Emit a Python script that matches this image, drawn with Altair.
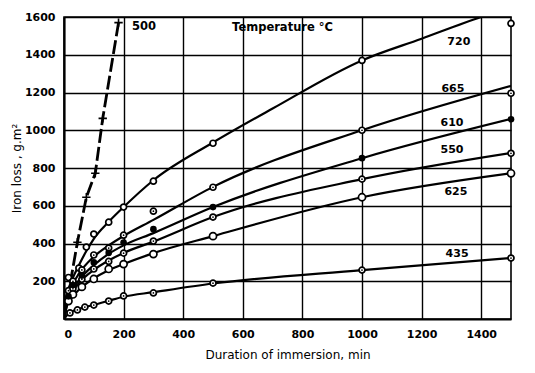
import altair as alt
import pandas as pd

# ---- data ----
curve_names = ["720", "665", "610", "550", "625", "435"]

line_t = {
    "720": [0, 10, 25, 50, 75, 100, 150, 200, 300, 500, 700, 1000, 1200, 1400, 1500],
    "665": [0, 10, 25, 50, 100, 150, 200, 300, 500, 1000, 1500],
    "610": [0, 10, 25, 50, 100, 150, 200, 300, 500, 1000, 1500],
    "550": [0, 10, 25, 50, 100, 150, 200, 300, 500, 1000, 1500],
    "625": [0, 10, 25, 50, 100, 150, 200, 300, 500, 1000, 1500],
    "435": [0, 10, 20, 45, 70, 100, 150, 200, 300, 500, 1000, 1500],
}
line_y = {
    "720": [0, 130, 200, 285, 360, 425, 515, 593, 735, 935, 1115, 1370, 1485, 1600, 1650],
    "665": [0, 105, 170, 240, 330, 390, 440, 525, 700, 1000, 1235],
    "610": [0, 90, 145, 205, 285, 345, 390, 455, 593, 852, 1060],
    "550": [0, 85, 135, 190, 260, 310, 350, 410, 540, 741, 880],
    "625": [0, 70, 110, 155, 215, 258, 291, 349, 439, 645, 772],
    "435": [0, 20, 35, 50, 63, 75, 97, 118, 142, 188, 259, 323],
}

mark_t = {
    "720": [15, 50, 75, 100, 150, 200, 300, 500, 1000, 1500],
    "665": [15, 30, 60, 100, 150, 200, 300, 500, 1000, 1500],
    "610": [15, 30, 60, 100, 150, 200, 300, 500, 1000, 1500],
    "550": [15, 30, 60, 100, 150, 200, 300, 500, 1000, 1500],
    "625": [15, 30, 60, 100, 150, 200, 300, 500, 1000, 1500],
    "435": [20, 45, 70, 100, 150, 200, 300, 500, 1000, 1500],
}
mark_y = {
    "720": [220, 270, 381, 450, 513, 593, 730, 931, 1370, 1566],
    "665": [150, 200, 260, 339, 376, 444, 571, 698, 1000, 1196],
    "610": [120, 180, 230, 300, 350, 405, 476, 593, 852, 1058],
    "550": [110, 160, 210, 265, 305, 349, 413, 540, 741, 878],
    "625": [95, 130, 170, 212, 265, 291, 344, 439, 645, 772],
    "435": [32, 48, 63, 74, 95, 122, 138, 190, 259, 323],
}

t500 = [0, 45, 75, 105, 130, 183]
y500 = [0, 407, 645, 772, 1063, 1570]
cross_t = [45, 75, 105, 130, 183]
cross_y = [407, 645, 772, 1063, 1570]

label_text = ["720", "665", "610", "550", "625", "435"]
label_t = [1325, 1305, 1302, 1302, 1315, 1319]
label_y = [1468, 1218, 1038, 895, 673, 344]

x_ticks = [0, 200, 400, 600, 800, 1000, 1200, 1400]
y_ticks = [200, 400, 600, 800, 1000, 1200, 1400, 1600]

# ---- tables ----
lines_df = pd.DataFrame(
    [{"curve": c, "t": t, "y": y} for c in curve_names for t, y in zip(line_t[c], line_y[c])]
)
marks_df = pd.DataFrame(
    [{"curve": c, "t": t, "y": y} for c in curve_names for t, y in zip(mark_t[c], mark_y[c])]
)
l500_df = pd.DataFrame({"t": t500, "y": y500})
cross_df = pd.DataFrame({"t": cross_t, "y": cross_y})
labels_df = pd.DataFrame({"label": label_text, "t": label_t, "y": label_y})
extra_df = pd.DataFrame(
    {"label": ["500", "Temperature °C"], "t": [228, 564], "y": [1547, 1542]}
)

xs = alt.Scale(domain=[0, 1500], nice=False, zero=True)
ys = alt.Scale(domain=[0, 1600], nice=False, zero=True)

X = alt.X(
    "t:Q",
    scale=xs,
    axis=alt.Axis(
        values=x_ticks,
        format="d",
        title="Duration of immersion, min",
        ticks=False,
        labelPadding=9,
        titlePadding=10,
        grid=True,
    ),
)
Y = alt.Y(
    "y:Q",
    scale=ys,
    axis=alt.Axis(
        values=y_ticks,
        format="d",
        title="Iron loss , g.m²",
        ticks=False,
        labelPadding=9,
        titlePadding=1,
        grid=True,
    ),
)

base_lines = (
    alt.Chart(lines_df)
    .mark_line(color="black", strokeWidth=2.2, interpolate="monotone", clip=True)
    .encode(x=X, y=Y, detail="curve:N")
)

line500 = (
    alt.Chart(l500_df)
    .mark_line(color="black", strokeWidth=2.8, strokeDash=[14, 4], clip=True)
    .encode(x="t:Q", y="y:Q")
)

open_marks = (
    alt.Chart(marks_df)
    .transform_filter(alt.FieldOneOfPredicate(field="curve", oneOf=["720", "665", "550", "435"]))
    .mark_point(shape="circle", filled=True, fill="white", stroke="black", strokeWidth=1.7, size=36, opacity=1)
    .encode(x="t:Q", y="y:Q")
)
big_open = (
    alt.Chart(marks_df)
    .transform_filter(alt.FieldEqualPredicate(field="curve", equal="625"))
    .mark_point(shape="circle", filled=True, fill="white", stroke="black", strokeWidth=1.7, size=50, opacity=1)
    .encode(x="t:Q", y="y:Q")
)
filled_marks = (
    alt.Chart(marks_df)
    .transform_filter(alt.FieldEqualPredicate(field="curve", equal="610"))
    .mark_point(shape="circle", filled=True, color="black", size=44, opacity=1)
    .encode(x="t:Q", y="y:Q")
)
dots = (
    alt.Chart(marks_df)
    .transform_filter(alt.FieldOneOfPredicate(field="curve", oneOf=["665", "550", "435"]))
    .mark_point(shape="circle", filled=True, color="black", size=3, opacity=1)
    .encode(x="t:Q", y="y:Q")
)
crosses = (
    alt.Chart(cross_df)
    .mark_point(shape="M-1,0L1,0M0,-1L0,1", filled=False, color="black", strokeWidth=1.6, size=70, opacity=1)
    .encode(x="t:Q", y="y:Q")
)

labels = (
    alt.Chart(labels_df)
    .mark_text(font="DejaVu Sans", fontSize=11, fontWeight="bold", align="center", baseline="middle", color="black")
    .encode(x="t:Q", y="y:Q", text="label:N")
)
extra = (
    alt.Chart(extra_df)
    .mark_text(font="DejaVu Sans", fontSize=11.5, fontWeight="bold", align="left", baseline="middle", color="black")
    .encode(x="t:Q", y="y:Q", text="label:N")
)

chart = (
    alt.layer(base_lines, line500, open_marks, big_open, filled_marks, dots, crosses, labels, extra)
    .properties(
        width=447,
        height=302,
        autosize=alt.AutoSizeParams(type="none"),
        padding={"left": 56, "top": 9, "right": 12, "bottom": 48},
        background="white",
    )
    .configure_view(stroke="black", strokeWidth=1.6)
    .configure_axis(
        domainColor="black",
        domainWidth=2,
        gridColor="black",
        gridWidth=1.4,
        gridOpacity=1,
        labelFont="DejaVu Sans",
        labelFontWeight="bold",
        labelFontSize=11,
        labelColor="black",
        titleFont="DejaVu Sans",
        titleFontWeight="normal",
        titleFontSize=12,
        titleColor="black",
    )
)

chart.save("out.html", embed_options={"renderer": "svg", "actions": False})
